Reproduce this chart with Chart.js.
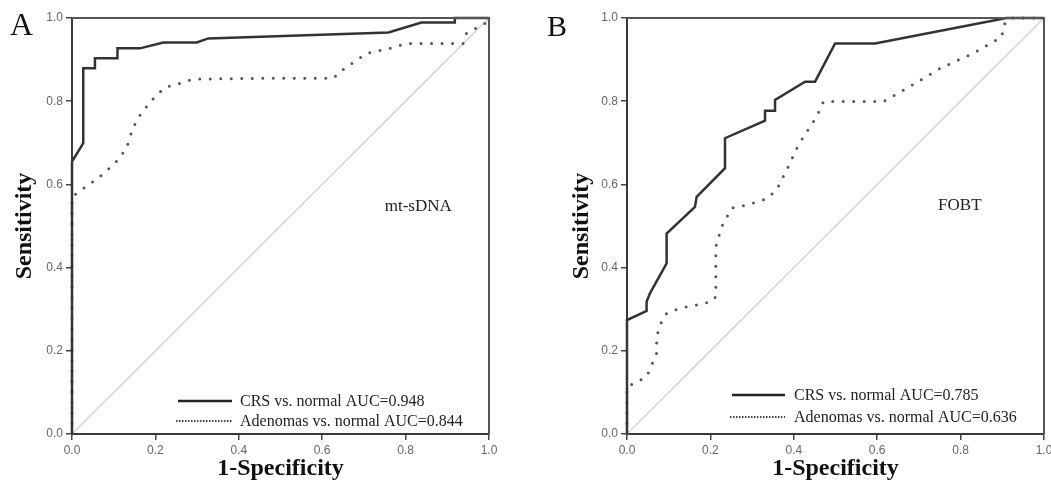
<!DOCTYPE html>
<html>
<head>
<meta charset="utf-8">
<title>ROC curves</title>
<script src="https://cdn.jsdelivr.net/npm/chart.js@4.4.1/dist/chart.umd.min.js"></script>
<style>
    html, body { margin: 0; padding: 0; background: #fff; overflow: hidden; }
    #wrap { position: relative; width: 1051px; height: 486px; overflow: hidden; }
    canvas { position: absolute; top: 0; }
    #chartA { left: 0; }
    #chartB { left: 526px; }
</style>
</head>
<body>
<div id="wrap">
    <canvas id="chartA" width="526" height="486"></canvas>
    <canvas id="chartB" width="545" height="486"></canvas>
</div>
<script>
// --- Data ---
const axisTicks = [0, 0.2, 0.4, 0.6, 0.8, 1.0];
const referenceX = [0, 1];
const referenceY = [0, 1];

// Panel A: mt-sDNA
const crsA_fpr = [0, 0, 0.027, 0.027, 0.055, 0.055, 0.109, 0.109, 0.163, 0.219, 0.299, 0.327, 0.759, 0.838, 0.918, 0.918, 1];
const crsA_tpr = [0, 0.655, 0.699, 0.879, 0.879, 0.903, 0.903, 0.927, 0.927, 0.941, 0.941, 0.951, 0.965, 0.989, 0.989, 1, 1];
const adenA_fpr = [0, 0, 0.011, 0.067, 0.103, 0.131, 0.139, 0.155, 0.179, 0.199, 0.223, 0.259, 0.291, 0.451, 0.627, 0.643, 0.683, 0.707, 0.755, 0.802, 0.938, 0.946, 0.990, 1];
const adenA_tpr = [0, 0.570, 0.578, 0.619, 0.651, 0.687, 0.715, 0.755, 0.787, 0.811, 0.833, 0.843, 0.853, 0.855, 0.855, 0.871, 0.899, 0.915, 0.925, 0.939, 0.939, 0.963, 0.987, 1];
const labelsA = ['CRS vs. normal AUC=0.948', 'Adenomas vs. normal AUC=0.844'];

// Panel B: FOBT
const crsB_fpr = [0, 0, 0.047, 0.047, 0.055, 0.095, 0.095, 0.163, 0.167, 0.235, 0.235, 0.331, 0.331, 0.355, 0.355, 0.427, 0.451, 0.499, 0.595, 0.910, 1];
const crsB_tpr = [0, 0.274, 0.296, 0.318, 0.338, 0.410, 0.482, 0.546, 0.570, 0.639, 0.711, 0.753, 0.777, 0.777, 0.803, 0.847, 0.847, 0.939, 0.939, 1, 1];
const adenB_fpr = [0, 0, 0.019, 0.047, 0.063, 0.071, 0.071, 0.083, 0.095, 0.127, 0.203, 0.213, 0.213, 0.227, 0.251, 0.287, 0.335, 0.359, 0.383, 0.411, 0.455, 0.471, 0.615, 0.671, 0.751, 0.830, 0.899, 0.903, 0.919, 1];
const adenB_tpr = [0, 0.114, 0.122, 0.138, 0.174, 0.194, 0.234, 0.270, 0.290, 0.302, 0.318, 0.330, 0.450, 0.498, 0.543, 0.550, 0.566, 0.587, 0.635, 0.695, 0.763, 0.799, 0.799, 0.831, 0.879, 0.915, 0.955, 0.983, 1, 1];
const labelsB = ['CRS vs. normal AUC=0.785', 'Adenomas vs. normal AUC=0.636'];

(function() {
    'use strict';

    const toPoints = (xs, ys) => xs.map((x, i) => ({ x, y: ys[i] }));
    const SERIF = '"Liberation Serif", "Times New Roman", serif';
    const tickFont = { family: '"Liberation Sans", Arial, sans-serif', size: 12 };

    // frame, panel letter, marker name and in-plot legend
    const rocDecor = {
        id: 'rocDecor',
        afterDatasetsDraw(chart, args, opts) {
            const { ctx, chartArea: a, scales: { x, y } } = chart;
            ctx.save();

            ctx.strokeStyle = '#555';
            ctx.lineWidth = 2;
            ctx.beginPath();
            ctx.moveTo(a.left, a.top);
            ctx.lineTo(a.right, a.top);
            ctx.lineTo(a.right, a.bottom);
            ctx.stroke();

            ctx.fillStyle = '#111';
            ctx.textAlign = 'left';
            ctx.textBaseline = 'alphabetic';
            ctx.font = `${opts.letterSize}px ${SERIF}`;
            ctx.fillText(opts.letter, opts.letterPos[0], opts.letterPos[1]);

            ctx.font = `17px ${SERIF}`;
            ctx.textBaseline = 'middle';
            ctx.fillStyle = '#222';
            ctx.fillText(opts.marker, x.getPixelForValue(opts.markerAt[0]), y.getPixelForValue(opts.markerAt[1]));

            ctx.font = `16px ${SERIF}`;
            chart.data.datasets.slice(0, 2).forEach((ds, i) => {
                const ly = a.bottom + opts.legendRows[i];
                ctx.beginPath();
                if (i === 0) {
                    ctx.setLineDash([]);
                    ctx.strokeStyle = '#222';
                    ctx.lineWidth = 2.5;
                    ctx.moveTo(a.left + opts.legendLine[0], ly);
                } else {
                    ctx.setLineDash([1.5, 1.5]);
                    ctx.strokeStyle = '#444';
                    ctx.lineWidth = 2;
                    ctx.moveTo(a.left + opts.legendLine[0] - 2, ly);
                }
                ctx.lineTo(a.left + opts.legendLine[1], ly);
                ctx.stroke();
                ctx.fillText(ds.label, a.left + opts.legendLine[2], ly + 1);
            });
            ctx.restore();
        }
    };

    const axis = extra => Object.assign({
        type: 'linear',
        min: 0,
        max: 1,
        afterBuildTicks: scale => { scale.ticks = axisTicks.map(v => ({ value: v })); },
        grid: { drawOnChartArea: false, drawTicks: true, tickLength: 6, color: '#444', lineWidth: 1.5 },
        border: { display: true, color: '#3a3a3a', width: 2 }
    }, extra);

    function buildRoc(canvasId, crsX, crsY, adenX, adenY, labels, panel) {
        const ctx = document.getElementById(canvasId).getContext('2d');
        return new Chart(ctx, {
            type: 'scatter',
            data: {
                datasets: [
                    { label: labels[0], data: toPoints(crsX, crsY), showLine: true, borderColor: '#333', borderWidth: 2.5,
                      pointRadius: 0, tension: 0, clip: 4 },
                    { label: labels[1], data: toPoints(adenX, adenY), showLine: true, borderColor: '#555', borderWidth: 3,
                      borderDash: [0, 10.5], borderCapStyle: 'round', pointRadius: 0, tension: 0, clip: 4 },
                    { label: 'reference', data: toPoints(referenceX, referenceY), showLine: true, borderColor: '#cfcfcf',
                      borderWidth: 1.2, pointRadius: 0, clip: 4 }
                ]
            },
            options: {
                responsive: false,
                animation: false,
                layout: { padding: { left: 0, top: 18, right: panel.padRight, bottom: 0 } },
                plugins: { legend: { display: false }, tooltip: { enabled: false }, rocDecor: panel },
                scales: {
                    x: axis({
                        afterFit: s => { s.height = 52; },
                        ticks: { callback: v => Number(v).toFixed(1), font: tickFont, color: '#666', maxRotation: 0, padding: 3 },
                        title: { display: true, text: '1-Specificity', color: '#111', padding: { top: 0, bottom: 3 },
                                 font: { family: SERIF, size: 24, weight: 'bold' } }
                    }),
                    y: axis({
                        afterFit: s => { s.width = panel.yAxisWidth; },
                        ticks: { callback: v => Number(v).toFixed(1), font: tickFont, color: '#666', padding: 3 },
                        title: { display: true, text: 'Sensitivity', color: '#111', padding: { top: panel.yTitlePad, bottom: 0 },
                                 font: { family: SERIF, size: 24, weight: 'bold' } }
                    })
                }
            },
            plugins: [rocDecor]
        });
    }

    buildRoc('chartA', crsA_fpr, crsA_tpr, adenA_fpr, adenA_tpr, labelsA, {
        letter: 'A', letterSize: 32, letterPos: [10, 35],
        marker: 'mt-sDNA', markerAt: [0.75, 0.546],
        legendRows: [-33, -13], legendLine: [106, 160, 168],
        padRight: 37, yAxisWidth: 72, yTitlePad: 10
    });

    buildRoc('chartB', crsB_fpr, crsB_tpr, adenB_fpr, adenB_tpr, labelsB, {
        letter: 'B', letterSize: 30, letterPos: [21, 36],
        marker: 'FOBT', markerAt: [0.746, 0.55],
        legendRows: [-39, -17], legendLine: [105, 158, 167],
        padRight: 27, yAxisWidth: 101, yTitlePad: 41
    });
})();
</script>
</body>
</html>
